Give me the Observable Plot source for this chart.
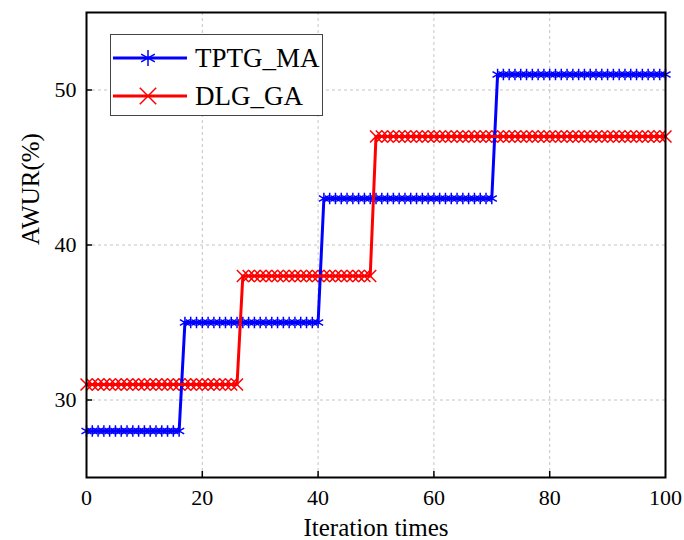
<!DOCTYPE html>
<html><head><meta charset="utf-8">
<script src="https://cdn.jsdelivr.net/npm/d3@7"></script>
<script src="https://cdn.jsdelivr.net/npm/@observablehq/plot@0.6"></script>
<style>
body{margin:0;background:#fff}
#wrap{position:relative;width:684px;height:540px}
#legend{position:absolute;left:110px;top:34px;width:211px;height:80px;border:1px solid #444;background:#fff;font-family:"Liberation Serif",serif;font-size:27px;color:#000}
.row{position:absolute;left:0;height:36px;display:flex;align-items:center}
.row svg{display:block}
.row span{margin-left:6px}
</style>
</head><body><div id="wrap"><div id="legend"></div></div>
<script>
const seriesNames = ["TPTG_MA", "DLG_GA"];
const seriesColors = ["#0000ff", "#ff0000"];
const seriesSymbols = ["asterisk", "times"];
// plateau values of each series and the last iteration at which each plateau holds
const tptgLevels = [28, 35, 43, 51];
const tptgLevelEnds = [16, 40, 70, 100];
const dlgLevels = [31, 38, 47];
const dlgLevelEnds = [26, 49, 100];
const iterations = d3.range(0, 101);
const xTicks = [0, 20, 40, 60, 80, 100];
const yTicks = [30, 40, 50];
const xLabel = "Iteration times";
const yLabel = "AWUR(%)";

function expand(name, levels, ends) {
  return iterations.map(i => {
    const k = ends.findIndex(e => i <= e);
    return {series: name, iter: i, value: levels[k]};
  });
}
const data = [
  ...expand(seriesNames[0], tptgLevels, tptgLevelEnds),
  ...expand(seriesNames[1], dlgLevels, dlgLevelEnds)
];

const font = "Liberation Serif";
const chart = Plot.plot({
  width: 684, height: 540,
  marginLeft: 86, marginRight: 19, marginTop: 12, marginBottom: 63,
  style: {fontFamily: font, fontSize: "22px", color: "#000", background: "transparent"},
  x: {domain: [0, 100]},
  y: {domain: [25, 55]},
  color: {domain: seriesNames, range: seriesColors},
  symbol: {domain: seriesNames, range: seriesSymbols},
  marks: [
    Plot.gridX(xTicks.slice(1, -1), {stroke: "#c4c4c4", strokeOpacity: 1, strokeDasharray: "3,3"}),
    Plot.gridY(yTicks, {stroke: "#c4c4c4", strokeOpacity: 1, strokeDasharray: "3,3"}),
    Plot.axisX(xTicks, {tickSize: 0, tickPadding: 12, label: null, fontSize: 22}),
    Plot.axisY(yTicks, {tickSize: 0, tickPadding: 10, label: null, fontSize: 22}),
    Plot.axisX(xTicks.slice(1, -1), {tickSize: -6, text: null, label: null, stroke: "#000", strokeWidth: 1.5}),
    Plot.axisY(yTicks, {tickSize: -6, text: null, label: null, stroke: "#000", strokeWidth: 1.5}),
    Plot.text([xLabel], {frameAnchor: "bottom", dy: 50, lineAnchor: "middle", fontSize: 25, fill: "#000"}),
    Plot.text([yLabel], {frameAnchor: "left", dx: -56, rotate: -90, lineAnchor: "middle", fontSize: 25, fill: "#000"}),
    Plot.dot(data, {x: "iter", y: "value", stroke: "series", symbol: "series", r: 5.5, strokeWidth: 1.5}),
    Plot.line(data, {x: "iter", y: "value", z: "series", stroke: "series", strokeWidth: 3}),
    Plot.frame({stroke: "#000", strokeWidth: 2})
  ]
});
const wrap = document.getElementById("wrap");
wrap.insertBefore(chart, wrap.firstChild);
chart.style.position = "absolute"; chart.style.left = "0"; chart.style.top = "0";

// legend
const legend = d3.select("#legend");
const symGen = {asterisk: d3.symbolAsterisk, times: d3.symbolTimes};
seriesNames.forEach((name, i) => {
  const row = legend.append("div").attr("class", "row").style("top", (i === 0 ? 5 : 43) + "px");
  const svg = row.append("svg").attr("width", 78).attr("height", 24);
  svg.append("line").attr("x1", 2).attr("x2", 76).attr("y1", 12).attr("y2", 12)
    .attr("stroke", seriesColors[i]).attr("stroke-width", 3);
  svg.append("path").attr("transform", "translate(37,12)")
    .attr("d", d3.symbol(symGen[seriesSymbols[i]], Math.PI * 7.5 * 7.5)())
    .attr("fill", "none").attr("stroke", seriesColors[i]).attr("stroke-width", 1.5);
  row.append("span").text(name);
});
</script>
</body></html>
